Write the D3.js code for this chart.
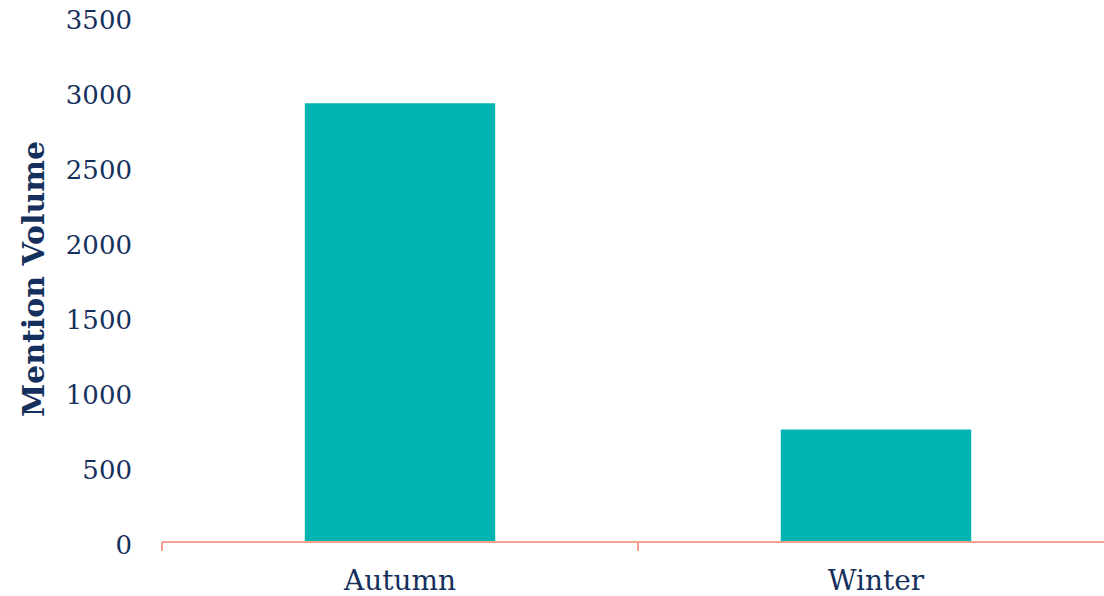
<!DOCTYPE html>
<html>
<head>
<meta charset="utf-8">
<script src="https://cdn.jsdelivr.net/npm/d3@7"></script>
<style>
  body { margin: 0; background: #fff; }
  svg { display: block; }
</style>
</head>
<body>
<svg id="chart" width="1104" height="596"></svg>
<script>
// data
const seasons = ["Autumn", "Winter"];
const mentions = [2925, 750];
const yTicks = [0, 500, 1000, 1500, 2000, 2500, 3000, 3500];

const width = 1104, height = 596;
const marginLeft = 162, marginRight = -10, marginTop = 17, marginBottom = 54;

const svg = d3.select("#chart");
const font = "'DejaVu Serif', Georgia, serif";
const navy = "#15305c";

const x = d3.scaleBand()
  .domain(seasons)
  .range([marginLeft, width - marginRight])
  .paddingInner(0.6)
  .paddingOuter(0.3);

const y = d3.scaleLinear()
  .domain([0, 3500])
  .range([height - marginBottom, marginTop]);

// bars
svg.append("g")
  .selectAll("rect")
  .data(seasons)
  .join("rect")
  .attr("x", d => x(d))
  .attr("y", (d, i) => y(mentions[i]))
  .attr("width", x.bandwidth())
  .attr("height", (d, i) => y(0) - y(mentions[i]))
  .attr("fill", "#00b4b1");

// x axis: line plus ticks between categories
const step = x.step();
const xAxis = svg.append("g");
xAxis.append("line")
  .attr("x1", marginLeft).attr("x2", width)
  .attr("y1", y(0)).attr("y2", y(0))
  .attr("stroke", "#f4a190").attr("stroke-width", 2);
xAxis.selectAll(".tick")
  .data(d3.range(seasons.length))
  .join("line")
  .attr("x1", i => marginLeft + i * step)
  .attr("x2", i => marginLeft + i * step)
  .attr("y1", y(0)).attr("y2", y(0) + 9)
  .attr("stroke", "#f4a190").attr("stroke-width", 2);
xAxis.selectAll("text")
  .data(seasons)
  .join("text")
  .attr("x", d => x(d) + x.bandwidth() / 2)
  .attr("y", y(0) + 48)
  .attr("text-anchor", "middle")
  .attr("font-family", font)
  .attr("font-size", 28)
  .attr("fill", navy)
  .text(d => d);

// y tick labels (no axis line)
svg.append("g")
  .selectAll("text")
  .data(yTicks)
  .join("text")
  .attr("x", 132)
  .attr("y", d => y(d) + 3)
  .attr("dy", "0.35em")
  .attr("text-anchor", "end")
  .attr("font-family", font)
  .attr("font-size", 26)
  .attr("fill", navy)
  .text(d => d);

// y axis title
svg.append("text")
  .attr("transform", "translate(44,279) rotate(-90)")
  .attr("text-anchor", "middle")
  .attr("font-family", font)
  .attr("font-weight", "bold")
  .attr("font-size", 30)
  .attr("fill", navy)
  .text("Mention Volume");
</script>
</body>
</html>
